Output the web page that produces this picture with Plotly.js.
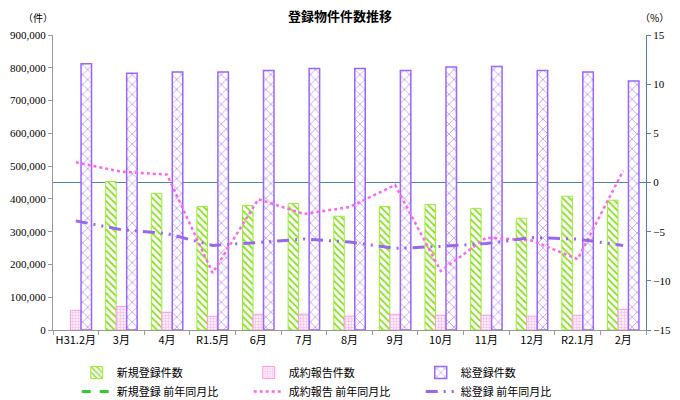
<!DOCTYPE html>
<html><head><meta charset="utf-8">
<script src="https://cdn.plot.ly/plotly-3.0.1.min.js"></script>
<style>html,body{margin:0;padding:0;background:#fff}#chart{width:680px;height:400px}</style>
</head><body><div id="chart"></div>
<script>
const categories = ["H31.2月","3月","4月","R1.5月","6月","7月","8月","9月","10月","11月","12月","R2.1月","2月"];
const newReg = [null,453000,417000,377000,380000,386000,347000,377000,383000,371000,341000,408000,396000];
const contracts = [60000,72000,54000,42000,48000,48000,42000,48000,45000,45000,42000,45000,63000];
const totalReg = [812000,783000,787000,787000,792000,798000,798000,792000,802000,804000,792000,787000,760000];
const newRegYoY = [null,null,null,null,null,null,null,null,null,null,null,null,null];
const contractsYoY = [2.05,1.1,0.8,-9.2,-1.7,-3.2,-2.5,-0.25,-9.0,-5.6,-5.9,-7.8,1.2];
const totalRegYoY = [-3.9,-4.8,-5.2,-6.4,-6.1,-5.75,-6.05,-6.7,-6.5,-6.2,-5.6,-5.75,-6.4];

const jp = '"Noto Sans CJK JP", "Noto Sans", sans-serif';
const num = '"Liberation Serif", "DejaVu Serif", serif';

const traces = [
  {type:'bar', name:'新規登録件数', x:categories, y:newReg,
   marker:{color:'#ffffff', line:{color:'#99ee33', width:1},
     pattern:{shape:'\\', fgcolor:'#88e022', bgcolor:'#ffffff', size:5, solidity:0.35, fillmode:'replace'}}},
  {type:'bar', name:'成約報告件数', x:categories, y:contracts,
   marker:{color:'#ffffff', line:{color:'#ff99dd', width:1},
     pattern:{shape:'+', fgcolor:'#ffaae6', bgcolor:'#fff2fb', size:3, solidity:0.3, fillmode:'replace'}}},
  {type:'bar', name:'総登録件数', x:categories, y:totalReg,
   marker:{color:'#ffffff', line:{color:'#9966ff', width:1.5},
     pattern:{shape:'x', fgcolor:'#b58cff', bgcolor:'#ffffff', size:7, solidity:0.2, fillmode:'replace'}}},
  {type:'scatter', mode:'lines', name:'新規登録 前年同月比', x:categories, y:newRegYoY, yaxis:'y2',
   line:{color:'#33cc33', width:3, dash:'dash'}},
  {type:'scatter', mode:'lines', name:'成約報告 前年同月比', x:categories, y:contractsYoY, yaxis:'y2',
   line:{color:'#ff66ee', width:2.5, dash:'dot'}},
  {type:'scatter', mode:'lines', name:'総登録 前年同月比', x:categories, y:totalRegYoY, yaxis:'y2',
   line:{color:'#9966ee', width:3, dash:'12px,6px,2px,6px,2px,6px'}}
];

const layout = {
  width:680, height:400,
  margin:{l:53, r:34, t:35, b:70, autoexpand:false},
  paper_bgcolor:'#fff', plot_bgcolor:'#fff',
  font:{family:jp, size:11, color:'#000'},
  title:{text:'<b>登録物件件数推移</b>', x:0.5, xanchor:'center', y:0.958, yanchor:'middle', font:{family:jp, size:13, color:'#000'}},
  barmode:'group', bargap:0.31, bargroupgap:0,
  showlegend:true,
  legend:{orientation:'h', x:0.04, xanchor:'left', y:-0.095, yanchor:'top',
    entrywidth:127, entrywidthmode:'pixels', itemwidth:30, font:{family:jp, size:11}, tracegroupgap:0},
  xaxis:{type:'category', showline:true, linecolor:'#999', linewidth:1, ticks:'outside', tickson:'boundaries',
    ticklen:4, tickcolor:'#999', showgrid:false, zeroline:false, tickangle:0, automargin:false,
    tickfont:{family:jp, size:11}, range:[-0.5,12.5]},
  yaxis:{range:[0,900000], dtick:100000, tickformat:',d', showline:true, linecolor:'#999', linewidth:1,
    ticks:'outside', ticklen:4, tickcolor:'#999', showgrid:false, zeroline:false, automargin:false,
    tickfont:{family:num, size:11}},
  yaxis2:{overlaying:'y', side:'right', range:[-15,15], dtick:5, showline:true, linecolor:'#4f7fb5', linewidth:1,
    ticks:'outside', ticklen:4, tickcolor:'#4f7fb5', showgrid:false, zeroline:true, zerolinecolor:'#4f81bd', zerolinewidth:1,
    automargin:false, tickfont:{family:num, size:11}},
  annotations:[
    {text:'（件）', xref:'paper', yref:'paper', x:-0.025, y:1.06, xanchor:'center', yanchor:'middle', showarrow:false, font:{family:jp, size:10}},
    {text:'（%）', xref:'paper', yref:'paper', x:1.015, y:1.06, xanchor:'center', yanchor:'middle', showarrow:false, font:{family:jp, size:10}}
  ]
};

Plotly.newPlot('chart', traces, layout, {displayModeBar:false, staticPlot:true});
</script></body></html>
